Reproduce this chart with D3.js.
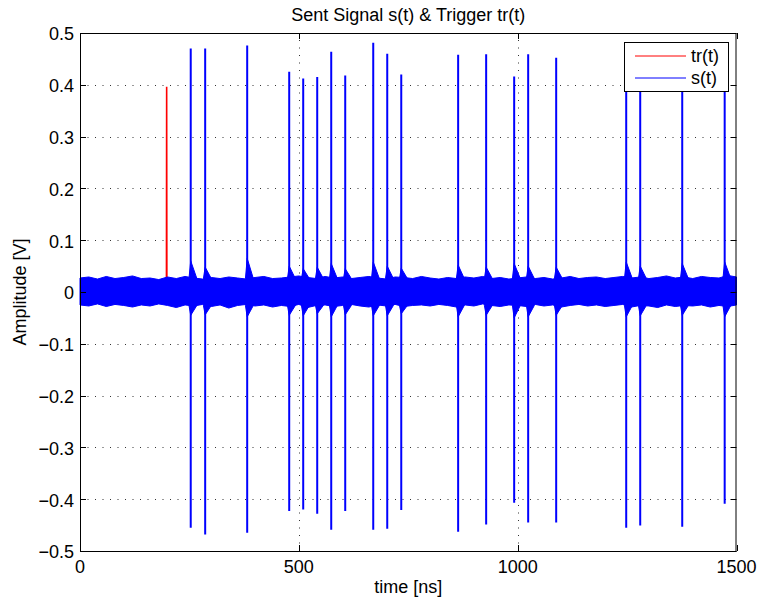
<!DOCTYPE html>
<html>
<head>
<meta charset="utf-8">
<script src="https://cdn.jsdelivr.net/npm/d3@7"></script>
<style>
  body { margin: 0; background: #fff; }
  text { font-family: "Liberation Sans", Arial, sans-serif; fill: #000; }
</style>
</head>
<body>
<div id="chart"></div>
<script>
// ---- data ----
var xTicks = [0, 500, 1000, 1500];
var yTicks = [-0.5, -0.4, -0.3, -0.2, -0.1, 0, 0.1, 0.2, 0.3, 0.4, 0.5];

// trigger tr(t): one pulse
var trigTime = 198, trigPeak = 0.396;

// sent signal s(t): pulses (time ns, max V, min V, ringing around each pulse)
var spikeTimes   = [253, 286, 382, 478, 510, 542, 574, 606, 670, 702, 734, 864, 928, 992, 1024, 1088, 1248, 1280, 1376, 1473];
var spikePeaks   = [0.470, 0.470, 0.476, 0.425, 0.412, 0.415, 0.464, 0.418, 0.481, 0.460, 0.420, 0.458, 0.459, 0.416, 0.459, 0.452, 0.470, 0.470, 0.470, 0.440];
var spikeTroughs = [-0.455, -0.468, -0.465, -0.423, -0.420, -0.428, -0.459, -0.423, -0.459, -0.457, -0.421, -0.463, -0.449, -0.407, -0.445, -0.445, -0.455, -0.451, -0.453, -0.409];
var tailHi = [0.060, 0.048, 0.065, 0.050, 0.045, 0.048, 0.055, 0.045, 0.058, 0.050, 0.046, 0.052, 0.048, 0.055, 0.050, 0.048, 0.058, 0.050, 0.055, 0.058];
var tailLo = [-0.045, -0.044, -0.048, -0.045, -0.046, -0.042, -0.048, -0.044, -0.046, -0.046, -0.042, -0.048, -0.045, -0.050, -0.048, -0.045, -0.048, -0.046, -0.045, -0.048];

// noise band of s(t), upper / lower edge every 20 ns
var noiseT = d3.range(0, 1501, 20);
var noiseHi = [
  0.027, 0.029, 0.025, 0.030, 0.026, 0.028, 0.031, 0.026, 0.027, 0.024,
  0.029, 0.026, 0.030, 0.027, 0.025, 0.028, 0.026, 0.029, 0.027, 0.025,
  0.028, 0.030, 0.026, 0.027, 0.029, 0.031, 0.028, 0.026, 0.030, 0.027,
  0.029, 0.026, 0.028, 0.030, 0.027, 0.025, 0.029, 0.028, 0.026, 0.030,
  0.027, 0.025, 0.028, 0.026, 0.029, 0.027, 0.030, 0.026, 0.028, 0.025,
  0.027, 0.029, 0.026, 0.028, 0.025, 0.027, 0.030, 0.026, 0.028, 0.029,
  0.026, 0.028, 0.030, 0.027, 0.029, 0.026, 0.028, 0.031, 0.027, 0.029,
  0.026, 0.030, 0.028, 0.027, 0.032, 0.029
];
var noiseLo = [
  -0.025, -0.027, -0.023, -0.028, -0.024, -0.026, -0.029, -0.025, -0.027, -0.023,
  -0.026, -0.030, -0.025, -0.027, -0.024, -0.028, -0.025, -0.031, -0.026, -0.024,
  -0.027, -0.025, -0.029, -0.026, -0.028, -0.024, -0.030, -0.026, -0.025, -0.028,
  -0.026, -0.024, -0.027, -0.029, -0.025, -0.027, -0.024, -0.028, -0.026, -0.025,
  -0.027, -0.024, -0.026, -0.029, -0.025, -0.027, -0.023, -0.026, -0.028, -0.025,
  -0.026, -0.028, -0.024, -0.027, -0.025, -0.029, -0.026, -0.024, -0.027, -0.025,
  -0.028, -0.026, -0.024, -0.029, -0.026, -0.027, -0.030, -0.025, -0.028, -0.026,
  -0.027, -0.025, -0.029, -0.026, -0.028, -0.025
];
var bandEdge = 0.026;

// ---- layout ----
var W = 759, H = 604;
var pL = 80, pR = 736.5, pT = 33, pB = 551;

var svg = d3.select("#chart").append("svg")
  .attr("width", W).attr("height", H);

var x = d3.scaleLinear().domain([0, 1500]).range([pL, pR]);
var y = d3.scaleLinear().domain([-0.5, 0.5]).range([pB, pT]);

// dotted grid
var grid = svg.append("g").attr("stroke", "#333").attr("stroke-width", 1)
  .attr("stroke-dasharray", "1,6.5");
grid.selectAll(".gx").data(xTicks.slice(1, -1)).enter().append("line")
  .attr("x1", function(d) { return Math.round(x(d)) + 0.5; })
  .attr("x2", function(d) { return Math.round(x(d)) + 0.5; })
  .attr("y1", pB).attr("y2", pT);
grid.selectAll(".gy").data(yTicks.slice(1, -1)).enter().append("line")
  .attr("y1", function(d) { return Math.round(y(d)) + 0.5; })
  .attr("y2", function(d) { return Math.round(y(d)) + 0.5; })
  .attr("x1", pL).attr("x2", pR);

var plot = svg.append("g");

// trigger tr(t)
var trig = [[0, 0], [trigTime - 0.5, 0], [trigTime, trigPeak], [trigTime + 0.5, 0], [1500, 0]];
plot.append("path")
  .attr("d", d3.line().x(function(d) { return x(d[0]); }).y(function(d) { return y(d[1]); })(trig))
  .attr("fill", "none").attr("stroke", "#ff0000").attr("stroke-width", 1.6);

// noise band of s(t)
var band = noiseT.map(function(t, i) { return { t: t, hi: noiseHi[i], lo: noiseLo[i] }; });
var area = d3.area()
  .x(function(d) { return x(d.t); })
  .y0(function(d) { return y(d.lo); })
  .y1(function(d) { return y(d.hi); });
plot.append("path").attr("d", area(band))
  .attr("fill", "#0000ff").attr("stroke", "#0000ff").attr("stroke-width", 1);

// ringing around each pulse
spikeTimes.forEach(function(t, i) {
  var tail = [
    { t: t - 4, hi: bandEdge, lo: -bandEdge },
    { t: t, hi: tailHi[i], lo: tailLo[i] },
    { t: t + 14, hi: bandEdge, lo: -bandEdge }
  ];
  plot.append("path").attr("d", area(tail))
    .attr("fill", "#0000ff").attr("stroke", "#0000ff").attr("stroke-width", 1);
});

// pulses
plot.selectAll(".spike").data(spikeTimes).enter().append("line")
  .attr("x1", function(d) { return x(d); })
  .attr("x2", function(d) { return x(d); })
  .attr("y1", function(d, i) { return y(spikePeaks[i]); })
  .attr("y2", function(d, i) { return y(spikeTroughs[i]); })
  .attr("stroke", "#0000ff").attr("stroke-width", 2);

// axes box and ticks
svg.append("rect")
  .attr("x", pL + 0.5).attr("y", pT + 0.5)
  .attr("width", pR - pL - 1).attr("height", pB - pT)
  .attr("fill", "none").attr("stroke", "#000").attr("stroke-width", 1);

var tl = 6;
var ticks = svg.append("g").attr("stroke", "#000").attr("stroke-width", 1);
xTicks.forEach(function(d) {
  var px = Math.round(x(d)) + 0.5;
  ticks.append("line").attr("x1", px).attr("x2", px).attr("y1", pB).attr("y2", pB - tl);
  ticks.append("line").attr("x1", px).attr("x2", px).attr("y1", pT).attr("y2", pT + tl);
});
yTicks.forEach(function(d) {
  var py = Math.round(y(d)) + 0.5;
  ticks.append("line").attr("x1", pL).attr("x2", pL + tl).attr("y1", py).attr("y2", py);
  ticks.append("line").attr("x1", pR).attr("x2", pR - tl).attr("y1", py).attr("y2", py);
});

var fs = "18px";
var fmt = d3.format("");
svg.selectAll(".ylab").data(yTicks).enter().append("text")
  .attr("x", pL - 6).attr("y", function(d) { return y(d) + 1; })
  .attr("dy", "0.35em").attr("text-anchor", "end").style("font-size", fs)
  .text(function(d) { return fmt(+d.toFixed(1)); });
svg.selectAll(".xlab").data(xTicks).enter().append("text")
  .attr("x", function(d) { return x(d); }).attr("y", pB + 22)
  .attr("text-anchor", "middle").style("font-size", fs)
  .text(function(d) { return d; });

svg.append("text").attr("x", (pL + pR) / 2).attr("y", 21)
  .attr("text-anchor", "middle").style("font-size", fs)
  .text("Sent Signal s(t) & Trigger tr(t)");
svg.append("text").attr("x", (pL + pR) / 2).attr("y", 593)
  .attr("text-anchor", "middle").style("font-size", fs)
  .text("time [ns]");
svg.append("text")
  .attr("transform", "translate(26," + ((pT + pB) / 2) + ") rotate(-90)")
  .attr("text-anchor", "middle").style("font-size", fs)
  .text("Amplitude [V]");

// legend
var legend = svg.append("g");
legend.append("rect").attr("x", 624.5).attr("y", 42.5).attr("width", 104).attr("height", 49)
  .attr("fill", "#fff").attr("stroke", "#000").attr("stroke-width", 1);
var legItems = [{ name: "tr(t)", color: "#ff0000" }, { name: "s(t)", color: "#0000ff" }];
legItems.forEach(function(d, i) {
  var ly = 56 + i * 22;
  legend.append("line").attr("x1", 635).attr("x2", 686).attr("y1", ly).attr("y2", ly)
    .attr("stroke", d.color).attr("stroke-width", 1);
  legend.append("text").attr("x", 691).attr("y", ly).attr("dy", "0.35em")
    .style("font-size", fs).text(d.name);
});
</script>
</body>
</html>
